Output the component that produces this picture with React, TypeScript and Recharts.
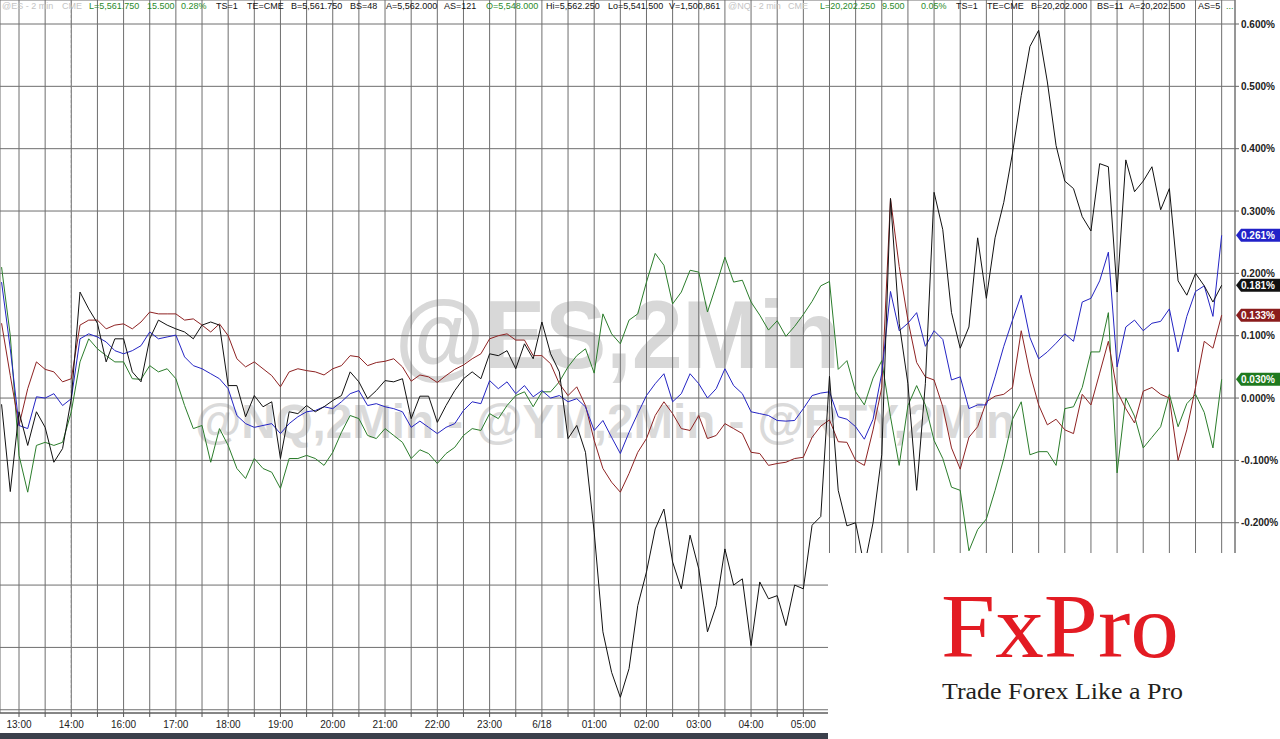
import React from "react";
import { LineChart, Line, XAxis, YAxis, CartesianGrid, ReferenceLine } from "recharts";

const W = 1280;
const H = 739;
const FONT = "'Liberation Sans', Arial, sans-serif";
const SERIF = "'Liberation Serif', 'Times New Roman', serif";

// x positions: one point every 10 minutes, in hours relative to the 13:00 label
const START_H = -1 / 3;
const STEP_H = 1 / 6;

const X_LABELS = ["13:00", "14:00", "16:00", "17:00", "18:00", "19:00", "20:00", "21:00", "22:00", "23:00", "6/18", "01:00", "02:00", "03:00", "04:00", "05:00", "06:00", "07:00", "08:00", "09:00", "10:00", "11:00", "12:00", "13:00"];
const Y_TICKS = [-0.5, -0.4, -0.3, -0.2, -0.1, 0, 0.1, 0.2, 0.3, 0.4, 0.5, 0.6];

const BLACK = [
  -0.01, -0.15, -0.022, -0.076, -0.022, -0.047, -0.103, -0.081, -0.001, 0.17,
  0.143, 0.12, 0.058, 0.095, 0.095, 0.042, 0.026, 0.095, 0.125, 0.117,
  0.111, 0.106, 0.095, 0.117, 0.122, 0.117, 0.02, 0.02, -0.03, 0.004,
  -0.014, -0.006, -0.097, -0.022, -0.025, -0.012, -0.022, -0.014, -0.004, 0.004,
  0.042, 0.026, -0.001, 0.012, 0.028, 0.026, 0.031, -0.033, 0.003, 0.003,
  -0.039, -0.012, 0.012, 0.031, 0.042, 0.031, 0.071, 0.068, 0.076, 0.047,
  0.087, 0.063, 0.122, 0.071, 0.042, -0.065, -0.044, -0.087, -0.215, -0.375,
  -0.44, -0.48, -0.434, -0.333, -0.279, -0.21, -0.178, -0.263, -0.306, -0.22,
  -0.274, -0.375, -0.333, -0.242, -0.3, -0.29, -0.397, -0.295, -0.322, -0.317,
  -0.365, -0.3, -0.306, -0.204, -0.19, 0.035, -0.148, -0.205, -0.2, -0.27,
  -0.2, -0.091, 0.32, 0.12, 0.023, -0.148, 0.023, 0.33, 0.27, 0.137,
  0.08, 0.114, 0.257, 0.16, 0.257, 0.314, 0.393, 0.485, 0.564, 0.59,
  0.507, 0.405, 0.348, 0.336, 0.291, 0.268, 0.376, 0.371, 0.17, 0.382,
  0.331, 0.348, 0.371, 0.302, 0.336, 0.188, 0.165, 0.2, 0.18, 0.154,
  0.181,
];

const BLUE = [
  0.186, 0.079, -0.044, -0.049, 0.002, 0.0, 0.007, -0.012, -0.001, 0.095,
  0.103, 0.098, 0.09, 0.076, 0.071, 0.076, 0.084, 0.106, 0.095, 0.098,
  0.101, 0.066, 0.052, 0.047, 0.039, 0.031, 0.015, -0.028, -0.041, -0.047,
  -0.044, -0.041, -0.057, -0.041, -0.03, -0.022, -0.02, -0.014, -0.017, -0.006,
  0.007, 0.012, -0.012, -0.009, -0.014, -0.017, -0.022, -0.047, -0.037, -0.047,
  -0.057, -0.047, -0.041, -0.02, -0.006, -0.009, 0.028, 0.015, 0.026, 0.007,
  0.02, 0.002, 0.012, 0.0, 0.004, -0.006, -0.001, -0.014, -0.052, -0.036,
  -0.063, -0.089, -0.055, -0.025, 0.004, 0.023, 0.039, -0.006, 0.007, 0.039,
  0.023, 0.0, 0.015, 0.047, 0.02, 0.007, -0.022, -0.025, -0.028, -0.036,
  -0.037, -0.036, -0.017, 0.004, 0.008, 0.01, -0.03, -0.034, -0.046, -0.066,
  -0.034, 0.04, 0.171, 0.108, 0.12, 0.137, 0.083, 0.108, 0.094, 0.029,
  0.034, -0.017, -0.011, -0.011, 0.034, 0.083, 0.125, 0.165, 0.097, 0.063,
  0.074, 0.088, 0.103, 0.091, 0.154, 0.16, 0.188, 0.234, 0.05, 0.114,
  0.125, 0.108, 0.12, 0.123, 0.143, 0.074, 0.131, 0.171, 0.18, 0.131,
  0.261,
];

const RED = [
  0.12, 0.036, -0.044, 0.015, 0.058, 0.046, 0.042, 0.026, 0.031, 0.117,
  0.125, 0.125, 0.111, 0.117, 0.119, 0.111, 0.122, 0.138, 0.135, 0.135,
  0.135, 0.125, 0.127, 0.117, 0.106, 0.119, 0.1, 0.063, 0.05, 0.058,
  0.047, 0.036, 0.018, 0.042, 0.047, 0.044, 0.042, 0.037, 0.047, 0.052,
  0.068, 0.066, 0.052, 0.057, 0.059, 0.063, 0.05, 0.027, 0.037, 0.034,
  0.025, 0.036, 0.046, 0.053, 0.063, 0.071, 0.095, 0.1, 0.103, 0.093,
  0.093, 0.068, 0.068, 0.055, 0.023, 0.004, 0.018, -0.012, -0.068, -0.113,
  -0.135, -0.151, -0.121, -0.087, -0.065, -0.028, -0.006, -0.025, -0.049, -0.052,
  -0.028, -0.065, -0.06, -0.041, -0.049, -0.057, -0.087, -0.089, -0.108, -0.105,
  -0.103, -0.097, -0.095, -0.063, -0.045, -0.035, -0.07, -0.071, -0.1, -0.108,
  -0.051, 0.017, 0.32, 0.211, 0.125, 0.057, 0.034, 0.029, -0.014, -0.08,
  -0.114, -0.063, -0.046, -0.006, 0.003, 0.006, 0.017, 0.108, 0.04, -0.011,
  -0.043, -0.034, -0.051, -0.057, 0.006, -0.011, 0.04, 0.091, 0.011, -0.017,
  -0.04, 0.011, 0.017, 0.006, 0.0, -0.1, -0.051, 0.017, 0.091, 0.08,
  0.133,
];

const GREEN = [
  0.21, 0.1, -0.092, -0.151, -0.076, -0.071, -0.076, -0.071, -0.022, 0.058,
  0.095, 0.079, 0.068, 0.058, 0.058, 0.031, 0.03, 0.052, 0.042, 0.047,
  0.031, -0.012, -0.049, -0.044, -0.103, -0.049, -0.076, -0.113, -0.129, -0.097,
  -0.113, -0.119, -0.145, -0.097, -0.097, -0.092, -0.097, -0.108, -0.087, -0.055,
  -0.028, -0.033, -0.06, -0.065, -0.049, -0.06, -0.071, -0.097, -0.083, -0.089,
  -0.105, -0.089, -0.079, -0.06, -0.049, -0.052, -0.025, -0.033, -0.012, 0.004,
  0.01, -0.014, 0.01, 0.01, 0.026, 0.05, 0.068, 0.079, 0.04, 0.135,
  0.103, 0.087, 0.125, 0.135, 0.186, 0.232, 0.213, 0.151, 0.17, 0.205,
  0.202, 0.138, 0.181, 0.226, 0.186, 0.189, 0.154, 0.133, 0.109, 0.124,
  0.099, 0.115, 0.134, 0.155, 0.18, 0.187, 0.046, 0.06, 0.01, -0.011,
  0.032, 0.06, -0.03, -0.108, -0.012, 0.02, -0.011, -0.068, -0.097, -0.143,
  -0.148, -0.245, -0.211, -0.194, -0.148, -0.097, -0.034, -0.006, -0.091, -0.086,
  -0.086, -0.108, -0.017, -0.014, 0.017, 0.074, 0.074, 0.137, -0.12, 0.0,
  -0.029, -0.08, -0.063, -0.046, 0.006, -0.046, -0.009, 0.006, -0.023, -0.08,
  0.03,
];

const COLORS = { black: "#111111", blue: "#2424c4", red: "#8e2222", green: "#2b7d2b" };
const TAG_COLORS = { black: "#111111", blue: "#2222c8", red: "#8a1c1c", green: "#1f7a1f" };

const HEADER = [
  { x: 2, t: "@ES - 2 min", c: "#c4c4c4" },
  { x: 62, t: "CME", c: "#c4c4c4" },
  { x: 89, t: "L=5,561.750", c: "#2a8a2a" },
  { x: 147, t: "15.500", c: "#2a8a2a" },
  { x: 181, t: "0.28%", c: "#2a8a2a" },
  { x: 216, t: "TS=1", c: "#111" },
  { x: 247, t: "TE=CME", c: "#111" },
  { x: 291, t: "B=5,561.750", c: "#111" },
  { x: 350, t: "BS=48", c: "#111" },
  { x: 386, t: "A=5,562.000", c: "#111" },
  { x: 444, t: "AS=121", c: "#111" },
  { x: 486, t: "O=5,548.000", c: "#2a8a2a" },
  { x: 546, t: "Hi=5,562.250", c: "#111" },
  { x: 608, t: "Lo=5,541.500", c: "#111" },
  { x: 669, t: "V=1,500,861", c: "#111" },
  { x: 728, t: "@NQ - 2 min", c: "#c4c4c4" },
  { x: 788, t: "CME", c: "#c4c4c4" },
  { x: 820, t: "L=20,202.250", c: "#2a8a2a" },
  { x: 882, t: "9.500", c: "#2a8a2a" },
  { x: 921, t: "0.05%", c: "#2a8a2a" },
  { x: 956, t: "TS=1", c: "#111" },
  { x: 987, t: "TE=CME", c: "#111" },
  { x: 1031, t: "B=20,202.000", c: "#111" },
  { x: 1097, t: "BS=11", c: "#111" },
  { x: 1129, t: "A=20,202.500", c: "#111" },
  { x: 1198, t: "AS=5", c: "#111" },
  { x: 1226, t: "...", c: "#2a8a2a" },
];

const data = BLACK.map((v, i) => ({
  h: START_H + i * STEP_H,
  black: v,
  blue: BLUE[i],
  red: RED[i],
  green: GREEN[i],
}));

const X_TICKS: number[] = [];
for (let i = 0; i <= 46; i++) X_TICKS.push(i / 2);

const X_MIN = -0.3634;
const X_MAX = 23.255;
const Y_MIN = -0.5052;
const Y_MAX = 0.6385;

function tagLabel(color: string, text: string) {
  return (props: any) => {
    const vb = props.viewBox || {};
    const y = vb.y ?? 0;
    const x0 = (vb.x ?? 0) + (vb.width ?? 0);
    return (
      <g>
        <path
          d={`M${x0 + 1},${y} L${x0 + 6},${y - 6.5} L${W},${y - 6.5} L${W},${y + 6.5} L${x0 + 6},${y + 6.5} Z`}
          fill={color}
        />
        <text x={x0 + 6} y={y + 3.6} fill="#ffffff" fontSize={10} fontWeight="bold" fontFamily={FONT}>
          {text}
        </text>
      </g>
    );
  };
}

const TAGS = [
  { key: "blue", v: BLUE[BLUE.length - 1], color: TAG_COLORS.blue },
  { key: "black", v: BLACK[BLACK.length - 1], color: TAG_COLORS.black },
  { key: "red", v: RED[RED.length - 1], color: TAG_COLORS.red },
  { key: "green", v: GREEN[GREEN.length - 1], color: TAG_COLORS.green },
];

export default function App() {
  return (
    <div
      style={{
        position: "absolute",
        left: 0,
        top: 0,
        width: W,
        height: H,
        background: "#ffffff",
        overflow: "hidden",
        fontFamily: FONT,
      }}
    >
      <svg width={W} height={H} style={{ position: "absolute", left: 0, top: 0 }}>
        <text x={395} y={368} fontSize={96} fontWeight="bold" fill="#d8d8d8" fontFamily={FONT} textLength={445} lengthAdjust="spacingAndGlyphs">
          @ES,2Min
        </text>
        <text x={195} y={438} fontSize={48} fontWeight="bold" fill="#dadada" fontFamily={FONT} textLength={820} lengthAdjust="spacingAndGlyphs">
          @NQ,2Min - @YM,2Min - @RTY,2Min
        </text>
      </svg>
      <div style={{ position: "absolute", left: 0, top: 0 }}>
        <LineChart width={W} height={H} data={data} margin={{ top: 0, right: 0, left: 0, bottom: 0 }}>
          <CartesianGrid stroke="#6e6e6e" strokeWidth={1} />
          <XAxis
            dataKey="h"
            type="number"
            domain={[X_MIN, X_MAX]}
            ticks={X_TICKS}
            interval={0}
            allowDataOverflow
            height={26}
            tickSize={4}
            tickMargin={4}
            tickFormatter={(v: number) => (v % 1 === 0 ? X_LABELS[v] ?? "" : "")}
            tick={{ fontSize: 10, fill: "#222", fontFamily: FONT }}
            tickLine={{ stroke: "#555" }}
            axisLine={{ stroke: "#555" }}
          />
          <YAxis
            orientation="right"
            type="number"
            domain={[Y_MIN, Y_MAX]}
            ticks={Y_TICKS}
            interval={0}
            allowDataOverflow
            width={45}
            tickSize={4}
            tickMargin={2}
            tickFormatter={(v: number) => v.toFixed(3) + "%"}
            tick={{ fontSize: 10, fill: "#222", fontWeight: "bold", fontFamily: FONT }}
            tickLine={{ stroke: "#666" }}
            axisLine={{ stroke: "#777" }}
          />
          <ReferenceLine x={1} stroke="#8a8a8a" strokeDasharray="3 2" />
          <Line type="linear" dataKey="green" stroke={COLORS.green} strokeWidth={1} dot={false} isAnimationActive={false} />
          <Line type="linear" dataKey="red" stroke={COLORS.red} strokeWidth={1} dot={false} isAnimationActive={false} />
          <Line type="linear" dataKey="blue" stroke={COLORS.blue} strokeWidth={1} dot={false} isAnimationActive={false} />
          <Line type="linear" dataKey="black" stroke={COLORS.black} strokeWidth={1} dot={false} isAnimationActive={false} />
          {TAGS.map((t) => (
            <ReferenceLine
              key={t.key}
              y={t.v}
              stroke="none"
              strokeWidth={0}
              label={tagLabel(t.color, t.v.toFixed(3) + "%")}
            />
          ))}
        </LineChart>
      </div>
      <svg width={W} height={14} style={{ position: "absolute", left: 0, top: 0 }}>
        {HEADER.map((s, i) => (
          <text key={i} x={s.x} y={9} fontSize={9} fill={s.c} fontFamily={FONT}>
            {s.t}
          </text>
        ))}
      </svg>
      <div style={{ position: "absolute", left: 0, top: 733, width: 828, height: 6, background: "#3b404b" }} />
      <div style={{ position: "absolute", left: 828, top: 553, width: W - 828, height: H - 553, background: "#ffffff" }}>
        <svg width={W - 828} height={H - 553}>
          <text x={113} y={104} fontSize={90} fill="#e31b23" fontFamily={SERIF} textLength={238} lengthAdjust="spacingAndGlyphs">
            FxPro
          </text>
          <text x={114} y={146} fontSize={24} fill="#231f20" fontFamily={SERIF} textLength={241} lengthAdjust="spacingAndGlyphs">
            Trade Forex Like a Pro
          </text>
        </svg>
      </div>
    </div>
  );
}
